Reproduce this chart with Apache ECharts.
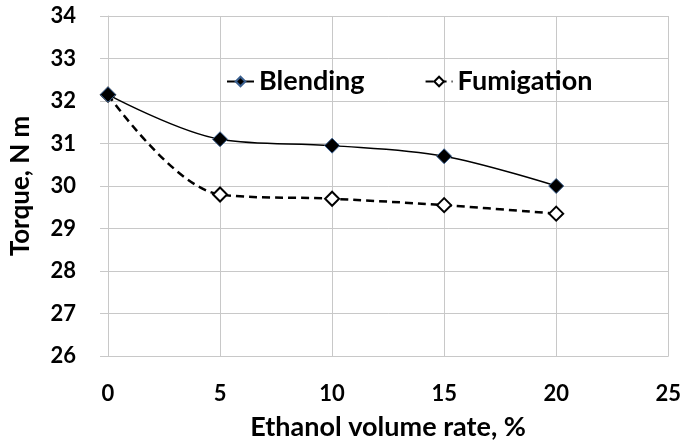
<!DOCTYPE html>
<html>
<head>
<meta charset="utf-8">
<script src="https://cdn.jsdelivr.net/npm/echarts@6/dist/echarts.min.js"></script>
<style>
    html, body { margin: 0; padding: 0; background: #fff; }
    #main { width: 684px; height: 446px; }
</style>
</head>
<body>
<div id="main"></div>
<script>
    // 数据
    var ethanolRate = [0, 5, 10, 15, 20];
    var blending = [32.15, 31.1, 30.95, 30.7, 30.0];
    var fumigation = [32.15, 29.8, 29.7, 29.55, 29.35];

    function pairs(xs, ys) {
        return xs.map(function (x, i) { return [x, ys[i]]; });
    }

    var myChart = echarts.init(document.getElementById('main'));
    var font = 'Lato, "Open Sans", sans-serif';
    var gridColor = '#c8c8c8';
    var option = {
        animation: false,
        grid: { left: 105, right: 14, top: 16, bottom: 89 },
        legend: {
            left: 221,
            top: 63,
            itemGap: 60,
            itemWidth: 27,
            itemHeight: 12,
            textStyle: { fontFamily: font, fontWeight: 'bold', fontSize: 27, color: '#000' },
            data: ['Blending', 'Fumigation']
        },
        xAxis: {
            type: 'value',
            min: 0, max: 25, interval: 5,
            name: 'Ethanol volume rate, %',
            nameLocation: 'middle',
            nameGap: 58,
            nameTextStyle: { fontFamily: font, fontWeight: 'bold', fontSize: 27, color: '#000' },
            axisLine: { lineStyle: { color: gridColor } },
            axisTick: { show: false },
            axisLabel: { fontFamily: font, fontWeight: 'bold', fontSize: 22, color: '#000', margin: 27 },
            splitLine: { show: true, lineStyle: { color: gridColor } }
        },
        yAxis: {
            type: 'value',
            min: 26, max: 34, interval: 1,
            name: 'Torque, N m',
            nameLocation: 'middle',
            nameGap: 74,
            nameTextStyle: { fontFamily: font, fontWeight: 'bold', fontSize: 26, color: '#000' },
            axisLine: { show: true, lineStyle: { color: gridColor } },
            axisTick: { show: true, length: 8, lineStyle: { color: gridColor } },
            axisLabel: { fontFamily: font, fontWeight: 'bold', fontSize: 22, color: '#000', margin: 32 },
            splitLine: { show: true, lineStyle: { color: gridColor } }
        },
        series: [
            {
                name: 'Fumigation',
                type: 'line',
                smooth: 0.35,
                data: pairs(ethanolRate, fumigation),
                symbol: 'diamond',
                symbolSize: 14,
                lineStyle: { color: '#000', width: 2.5, type: [8, 5] },
                itemStyle: { color: '#fff', borderColor: '#000', borderWidth: 2 }
            },
            {
                name: 'Blending',
                type: 'line',
                smooth: 0.35,
                data: pairs(ethanolRate, blending),
                symbol: 'diamond',
                symbolSize: 15,
                lineStyle: { color: '#000', width: 1.5 },
                itemStyle: { color: '#000', borderColor: '#3a5f8f', borderWidth: 1 }
            }
        ]
    };
    myChart.setOption(option);
</script>
</body>
</html>
